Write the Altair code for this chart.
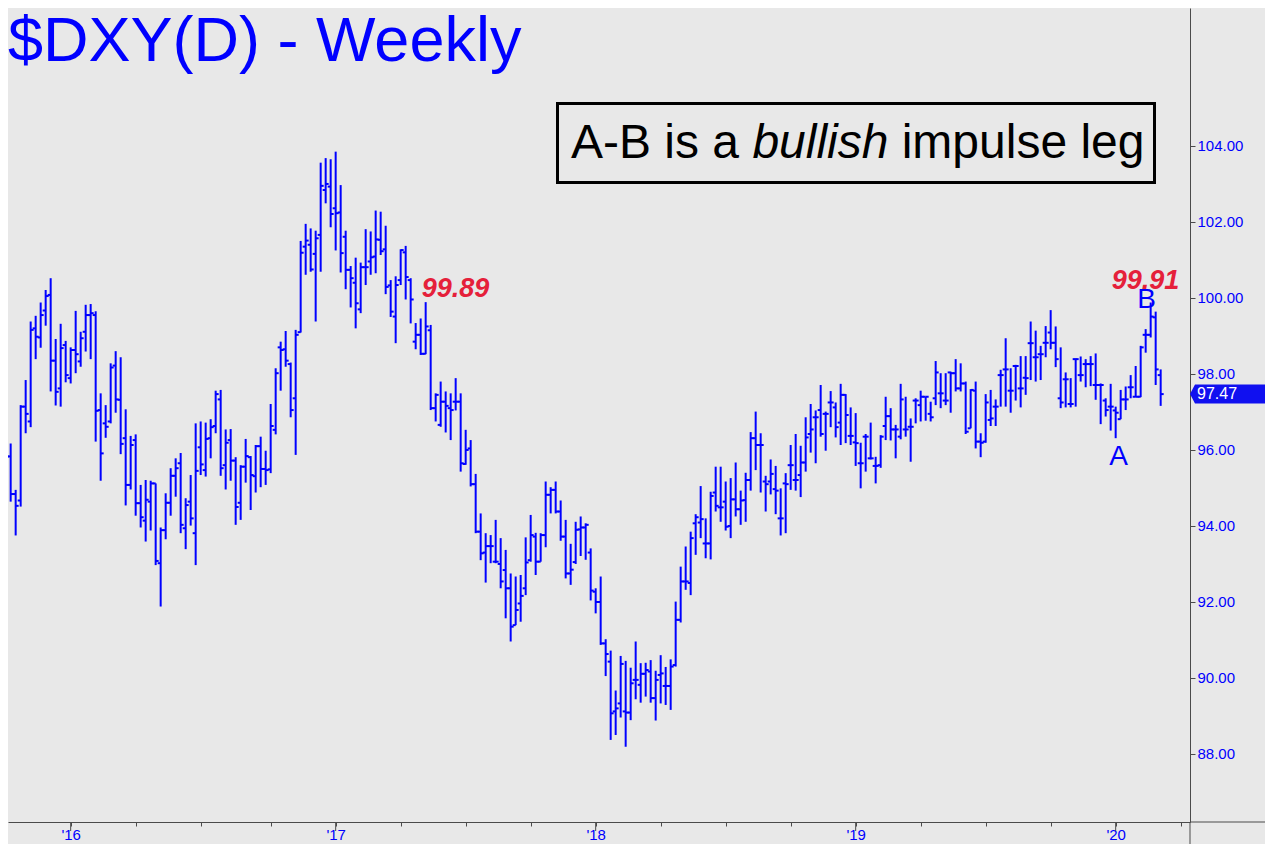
import altair as alt
import pandas as pd

# ---------------- data (weekly OHLC) ----------------
opens = [
    95.60, 96.22, 95.83, 94.84, 94.67, 97.14, 96.75, 99.20, 98.96, 99.67,
    100.08, 98.35, 97.62, 98.76, 97.89, 98.63, 98.33, 99.11, 99.55, 99.55,
    97.05, 96.70, 96.75, 98.22, 97.32, 96.31, 95.08, 96.26, 94.60, 94.14,
    94.64, 95.12, 93.02, 93.89, 94.61, 95.32, 95.65, 93.94, 94.64, 93.81,
    96.07, 95.47, 96.31, 96.63, 97.33, 95.60, 96.26, 95.72, 94.61, 95.56,
    95.81, 95.31, 96.10, 95.50, 95.49, 96.53, 98.70, 98.65, 98.26, 97.36,
    99.10, 101.35, 101.40, 101.16, 101.66, 102.84, 102.93, 102.36, 102.25, 101.61,
    100.74, 100.40, 99.70, 100.81, 100.96, 101.09, 101.53, 101.28, 100.33, 99.51,
    100.47, 101.20, 100.47, 98.85, 99.03, 98.53, 99.15, 97.10, 96.66, 97.27,
    97.10, 97.27, 97.27, 95.63, 96.04, 95.10, 93.85, 93.30, 93.47, 93.06,
    93.00, 92.84, 92.36, 91.39, 91.96, 92.36, 93.10, 93.72, 93.06, 93.76,
    94.82, 94.95, 94.38, 93.72, 92.75, 93.05, 93.91, 93.96, 93.30, 92.27,
    92.00, 90.91, 90.43, 89.12, 89.33, 89.12, 89.09, 89.95, 89.82, 90.11,
    90.17, 89.47, 90.08, 89.79, 89.79, 90.34, 91.53, 92.54, 92.50, 94.07,
    94.09, 93.54, 93.54, 94.88, 94.49, 94.64, 94.00, 94.70, 94.44, 94.68,
    95.21, 96.31, 96.13, 95.17, 95.17, 94.97, 94.20, 95.12, 95.60, 95.21,
    95.34, 95.67, 96.42, 96.86, 97.05, 96.95, 97.25, 97.12, 96.72, 97.45,
    96.37, 96.20, 95.65, 96.35, 95.78, 95.58, 95.60, 96.63, 96.89, 96.54,
    96.35, 96.54, 96.61, 97.30, 97.18, 97.40, 96.95, 97.36, 97.49, 97.30,
    98.04, 98.02, 97.62, 97.75, 96.57, 97.56, 96.22, 96.22, 96.79, 97.14,
    97.97, 98.12, 97.56, 98.21, 97.62, 97.90, 98.81, 98.44, 98.52, 98.82,
    99.09, 98.82, 97.36, 97.86, 97.21, 98.39, 97.97, 98.26, 98.26, 97.71,
    97.71, 97.30, 97.14, 97.04, 96.81, 97.33, 97.65, 97.40, 97.40, 99.03,
    99.03, 99.49, 97.97,
]
highs = [
    96.70, 96.53, 96.17, 94.95, 97.18, 97.84, 99.38, 99.53, 99.88, 100.21,
    100.52, 98.92, 99.32, 98.87, 98.70, 99.66, 99.11, 99.82, 99.84, 99.65,
    97.49, 97.18, 98.28, 98.60, 98.44, 97.07, 96.37, 96.41, 95.08, 95.21,
    95.19, 95.12, 93.96, 94.86, 95.52, 95.78, 95.92, 94.73, 95.34, 96.70,
    96.75, 96.72, 96.81, 97.56, 97.58, 96.54, 96.55, 95.81, 95.60, 96.29,
    95.84, 96.13, 96.35, 95.98, 97.21, 98.15, 98.85, 99.13, 98.30, 99.16,
    101.50, 101.95, 101.83, 101.77, 103.56, 103.68, 103.65, 103.85, 102.97, 101.77,
    100.84, 101.06, 100.93, 101.81, 101.75, 102.30, 102.27, 101.90, 100.47, 100.57,
    101.28, 101.37, 100.52, 99.34, 99.46, 99.89, 99.29, 97.49, 97.80, 97.54,
    97.49, 97.89, 97.49, 96.53, 96.26, 95.37, 94.33, 93.81, 93.76, 94.16,
    93.68, 93.37, 92.75, 92.67, 92.71, 93.70, 94.29, 93.82, 93.81, 95.17,
    95.02, 95.17, 94.67, 94.16, 93.53, 94.11, 94.25, 94.07, 93.41, 92.36,
    92.67, 91.02, 90.72, 89.67, 90.58, 90.45, 90.27, 90.96, 90.39, 90.40,
    90.47, 90.19, 90.60, 90.29, 90.49, 92.01, 92.93, 93.46, 93.85, 94.31,
    95.05, 94.20, 94.90, 95.56, 95.56, 95.17, 95.26, 95.67, 94.93, 95.40,
    96.47, 97.01, 96.44, 95.32, 95.75, 95.58, 94.99, 95.39, 96.13, 96.42,
    96.11, 96.86, 97.21, 97.04, 97.71, 97.01, 97.55, 97.25, 97.74, 97.47,
    97.12, 96.97, 96.19, 96.42, 96.72, 95.82, 96.39, 97.40, 97.10, 96.66,
    97.74, 97.40, 96.83, 97.36, 97.56, 97.40, 97.27, 98.34, 98.02, 98.02,
    98.06, 98.39, 98.28, 97.80, 97.60, 97.80, 96.44, 97.47, 97.58, 97.33,
    98.11, 98.94, 98.15, 98.24, 98.47, 98.47, 99.38, 99.14, 98.74, 99.26,
    99.68, 99.25, 98.70, 98.04, 97.89, 98.41, 98.46, 98.39, 98.47, 98.54,
    97.75, 97.36, 97.74, 97.14, 97.58, 97.67, 97.97, 98.21, 98.74, 99.18,
    99.88, 99.64, 98.12,
]
lows = [
    94.99, 95.17, 94.64, 93.75, 94.51, 96.44, 96.60, 98.39, 98.69, 99.27,
    97.54, 97.17, 97.14, 97.78, 97.75, 98.02, 98.19, 98.59, 98.39, 96.22,
    95.19, 96.32, 96.70, 96.98, 95.89, 94.54, 94.96, 94.27, 93.96, 93.59,
    93.88, 92.97, 91.88, 93.65, 94.27, 94.77, 93.81, 93.39, 94.01, 92.97,
    95.34, 95.30, 95.78, 96.44, 95.32, 94.96, 95.19, 94.03, 94.16, 95.14,
    94.42, 94.88, 95.02, 95.08, 95.39, 96.41, 97.56, 98.19, 96.86, 95.87,
    99.09, 100.61, 100.69, 99.38, 100.69, 102.49, 101.86, 101.25, 100.67, 100.23,
    99.75, 99.20, 99.60, 100.34, 100.61, 100.65, 101.13, 100.10, 99.50, 98.81,
    100.34, 99.96, 99.33, 98.65, 98.50, 98.52, 97.05, 96.75, 96.61, 96.46,
    96.26, 97.04, 95.43, 95.61, 95.04, 93.81, 93.10, 92.51, 93.02, 93.02,
    92.36, 91.57, 90.96, 91.39, 91.48, 92.18, 93.06, 92.71, 93.06, 93.44,
    94.33, 94.33, 93.61, 92.62, 92.45, 93.00, 93.21, 93.11, 92.04, 91.70,
    90.87, 90.05, 88.37, 88.50, 88.96, 88.19, 88.89, 89.44, 89.35, 89.51,
    89.35, 88.88, 89.33, 89.29, 89.16, 90.30, 91.46, 92.32, 92.18, 93.24,
    93.68, 93.15, 93.12, 94.38, 94.11, 93.88, 93.68, 94.25, 94.03, 94.11,
    94.93, 95.47, 94.88, 94.38, 94.83, 94.31, 93.75, 93.81, 94.95, 94.93,
    94.76, 95.43, 95.93, 95.65, 96.35, 95.98, 96.60, 96.33, 96.13, 96.18,
    96.13, 95.58, 94.99, 95.43, 95.75, 95.12, 95.53, 96.26, 96.25, 95.78,
    96.28, 96.35, 95.69, 96.70, 96.75, 96.77, 96.75, 97.18, 97.10, 97.18,
    96.98, 97.54, 97.54, 96.42, 96.57, 96.04, 95.81, 96.19, 96.63, 96.63,
    97.14, 97.14, 96.98, 97.30, 97.12, 97.45, 97.84, 97.80, 97.84, 98.44,
    98.65, 98.18, 97.10, 97.12, 97.12, 97.14, 97.80, 97.65, 97.68, 97.32,
    96.68, 96.88, 96.51, 96.31, 96.81, 97.05, 97.36, 97.39, 97.39, 98.56,
    98.96, 97.71, 97.16,
]
closes = [
    96.26, 95.83, 94.84, 94.53, 97.14, 96.95, 99.16, 98.98, 99.55, 100.05,
    98.35, 97.53, 98.68, 97.97, 98.63, 98.52, 98.94, 99.55, 99.60, 97.03,
    95.91, 96.61, 98.17, 97.33, 96.16, 95.08, 96.13, 94.60, 94.23, 94.69,
    95.12, 93.08, 93.89, 94.61, 95.32, 95.52, 94.03, 94.55, 94.20, 95.45,
    95.62, 96.29, 96.60, 97.47, 95.52, 96.19, 95.72, 94.50, 95.56, 95.84,
    95.34, 96.10, 95.50, 95.47, 96.63, 98.02, 98.63, 98.35, 97.05, 99.03,
    101.19, 101.51, 100.75, 101.57, 102.95, 103.00, 102.21, 102.23, 101.18, 100.74,
    100.52, 99.86, 100.81, 100.81, 101.07, 101.54, 101.23, 100.29, 99.64, 100.34,
    101.26, 100.55, 99.96, 99.03, 98.53, 99.25, 97.10, 97.45, 97.27, 97.16,
    97.05, 97.27, 95.65, 96.00, 95.10, 93.85, 93.28, 93.47, 93.47, 93.06,
    92.54, 92.36, 91.35, 91.79, 92.16, 93.04, 93.76, 93.06, 93.76, 94.82,
    94.95, 94.38, 93.72, 92.75, 92.85, 93.90, 93.96, 94.03, 92.30, 92.00,
    90.91, 90.63, 89.07, 89.20, 90.37, 89.09, 89.86, 89.95, 90.11, 90.21,
    89.47, 89.95, 90.12, 89.79, 90.30, 91.53, 92.54, 92.54, 93.68, 94.23,
    94.18, 93.54, 94.79, 94.53, 94.49, 93.98, 94.70, 94.44, 94.67, 95.21,
    96.31, 96.13, 96.13, 95.10, 95.37, 94.93, 94.20, 95.10, 95.60, 95.21,
    95.67, 96.33, 96.54, 96.86, 96.42, 96.95, 97.25, 96.60, 97.45, 96.92,
    96.37, 96.18, 95.65, 96.35, 95.78, 95.58, 96.35, 96.89, 96.54, 96.54,
    97.33, 96.54, 96.61, 97.30, 97.40, 97.40, 96.86, 98.04, 97.49, 97.30,
    98.02, 97.62, 97.75, 96.48, 97.58, 96.22, 96.19, 97.25, 96.83, 97.14,
    97.97, 98.12, 97.56, 98.21, 97.62, 97.89, 98.81, 98.44, 98.52, 98.82,
    98.82, 98.39, 97.25, 97.86, 97.21, 98.39, 97.97, 98.26, 98.26, 97.71,
    97.71, 97.05, 97.14, 96.98, 97.33, 97.33, 97.65, 97.40, 98.70, 99.03,
    99.51, 98.12, 97.47,
]
y_tick_values = [88, 90, 92, 94, 96, 98, 100, 102, 104]
last_price = 97.47
title_text = "$DXY(D) - Weekly"
box_parts = ["A-B is a", "bullish", "impulse leg"]

# ---------------- styling ----------------
BLUE = "#0000ff"
RED = "#e5203a"
GRAY = "#4a4a4a"
BG = "#e8e8e8"
FONT = "Liberation Sans"
W, H = 1182, 814
PAD_R, PAD_B = 75, 22

n = len(opens)
dates = pd.date_range("2015-09-25", periods=n, freq="7D")
df = pd.DataFrame({
    "date": dates.strftime("%Y-%m-%dT%H:%M:%S"),
    "open": opens, "high": highs, "low": lows, "close": closes,
})

x_lo = pd.Timestamp("2015-10-05 06:17")
x_hi = pd.Timestamp("2020-04-16 01:26")


def dt(ts):
    return alt.DateTime(year=ts.year, month=ts.month, date=ts.day,
                        hours=ts.hour, minutes=ts.minute)


XS = alt.Scale(domain=[dt(x_lo), dt(x_hi)])
YS = alt.Scale(domain=[86.21, 107.63], nice=False, zero=False)

# first weekly bar of every quarter -> axis ticks
fridays = pd.date_range("2015-09-25", "2020-06-30", freq="7D")
qticks = []
for d in fridays:
    prev = d - pd.Timedelta(days=7)
    if (prev.year, (prev.month - 1) // 3) != (d.year, (d.month - 1) // 3):
        if x_lo <= d <= x_hi:
            qticks.append(d)
yearticks_df = pd.DataFrame(
    {"date": [d.strftime("%Y-%m-%dT%H:%M:%S") for d in qticks if d.month == 1]})

x_axis = alt.Axis(
    values=[alt.DateTime(year=d.year, month=d.month, date=d.day) for d in qticks],
    labelExpr="month(datum.value) < 3 ? \"'\" + timeFormat(datum.value, '%y') : ''",
    tickSize=4, tickColor=GRAY, domainColor=GRAY, labelColor=BLUE,
    labelFont=FONT, labelFontSize=15, labelPadding=1, grid=False, title=None,
    labelFlush=False, labelOverlap=False,
)
y_axis = alt.Axis(
    orient="right", values=y_tick_values, format=".2f", tickSize=5,
    tickColor=GRAY, domainColor=GRAY, labelColor=BLUE, labelFont=FONT,
    labelFontSize=15, labelPadding=2, grid=False, title=None,
)

base = alt.Chart(df)
# only the first layer declares the axes; the others share the same scales
Xn = alt.X("date:T", scale=XS)

hl = base.mark_rule(color=BLUE, strokeWidth=2).encode(
    x=alt.X("date:T", scale=XS, axis=x_axis),
    y=alt.Y("low:Q", scale=YS, axis=y_axis),
    y2="high:Q",
)
op = base.mark_rule(color=BLUE, strokeWidth=2, xOffset=-3, x2Offset=0).encode(
    x=Xn, x2="date:T", y=alt.Y("open:Q", scale=YS))
cl = base.mark_rule(color=BLUE, strokeWidth=2, xOffset=0, x2Offset=3).encode(
    x=Xn, x2="date:T", y=alt.Y("close:Q", scale=YS))

year_ticks = alt.Chart(yearticks_df).mark_rule(color=GRAY, strokeWidth=1).encode(
    x=Xn, y=alt.value(H), y2=alt.value(H + 9))

one = pd.DataFrame({"k": [0]})
axis_ext_x = alt.Chart(one).mark_rule(color=GRAY, strokeWidth=1).encode(
    x=alt.value(W), x2=alt.value(W + PAD_R), y=alt.value(H))
axis_ext_y = alt.Chart(one).mark_rule(color=GRAY, strokeWidth=1).encode(
    x=alt.value(W), y=alt.value(H), y2=alt.value(H + PAD_B))

# title
title = alt.Chart(pd.DataFrame({"t": [title_text]})).mark_text(
    font=FONT, fontSize=63, color=BLUE, align="left", baseline="alphabetic").encode(
    x=alt.value(0), y=alt.value(53), text="t:N")

# boxed note
box = alt.Chart(one).mark_rect(fill="transparent", stroke="black", strokeWidth=3).encode(
    x=alt.value(549.5), x2=alt.value(1146.5), y=alt.value(95.5), y2=alt.value(174.5))
note1 = alt.Chart(pd.DataFrame({"t": [box_parts[0]]})).mark_text(
    font=FONT, fontSize=48, color="black", align="left", baseline="alphabetic").encode(
    x=alt.value(563.0), y=alt.value(150), text="t:N")
note2 = alt.Chart(pd.DataFrame({"t": [box_parts[1]]})).mark_text(
    font=FONT, fontSize=48, fontStyle="italic", color="black", align="left",
    baseline="alphabetic").encode(
    x=alt.value(744.4), y=alt.value(150), text="t:N")
note3 = alt.Chart(pd.DataFrame({"t": [box_parts[2]]})).mark_text(
    font=FONT, fontSize=48, color="black", align="left", baseline="alphabetic").encode(
    x=alt.value(893.7), y=alt.value(150), text="t:N")

# price annotations
red_df = pd.DataFrame({
    "date": [(dates[84] + pd.Timedelta(days=1.4)).strftime("%Y-%m-%dT%H:%M:%S"),
             (dates[222] + pd.Timedelta(days=1.4)).strftime("%Y-%m-%dT%H:%M:%S")],
    "price": [100.03, 100.23],
    "t": ["99.89", "99.91"],
})
red = alt.Chart(red_df).mark_text(
    font=FONT, fontSize=27, fontWeight="bold", fontStyle="italic", color=RED,
    align="left", baseline="alphabetic").encode(
    x=Xn, y=alt.Y("price:Q", scale=YS), text="t:N")

ab_df = pd.DataFrame({
    "date": [(dates[229] + pd.Timedelta(days=1.2)).strftime("%Y-%m-%dT%H:%M:%S"),
             (dates[223] + pd.Timedelta(days=4.0)).strftime("%Y-%m-%dT%H:%M:%S")],
    "price": [99.74, 95.61],
    "t": ["B", "A"],
})
ab = alt.Chart(ab_df).mark_text(
    font=FONT, fontSize=28, color=BLUE, align="center", baseline="alphabetic").encode(
    x=Xn, y=alt.Y("price:Q", scale=YS), text="t:N")

# last price tag
tag_df = pd.DataFrame({"price": [last_price], "t": [f"{last_price:.2f}"]})
tag = alt.Chart(tag_df).mark_point(
    shape="M -1 0 L -0.867 -0.253 L 1 -0.253 L 1 0.253 L -0.867 0.253 Z",
    size=5625, filled=True, color="#1010f0", opacity=1, strokeWidth=0).encode(
    x=alt.value(W + 37.5), y=alt.Y("price:Q", scale=YS))
tag_text = alt.Chart(tag_df).mark_text(
    font=FONT, fontSize=16, color="white", align="left", baseline="middle").encode(
    x=alt.value(W + 7), y=alt.Y("price:Q", scale=YS), text="t:N")

chart = alt.layer(
    hl, op, cl, year_ticks, axis_ext_x, axis_ext_y, title, box,
    note1, note2, note3, red, ab, tag, tag_text,
).properties(
    width=W, height=H,
    padding={"left": 0, "top": 0, "right": PAD_R, "bottom": PAD_B},
    autosize=alt.AutoSizeParams(type="none"),
).configure(
    background=BG,
).configure_view(stroke=None)

chart.save("out.html", embed_options={"renderer": "svg", "actions": False})
